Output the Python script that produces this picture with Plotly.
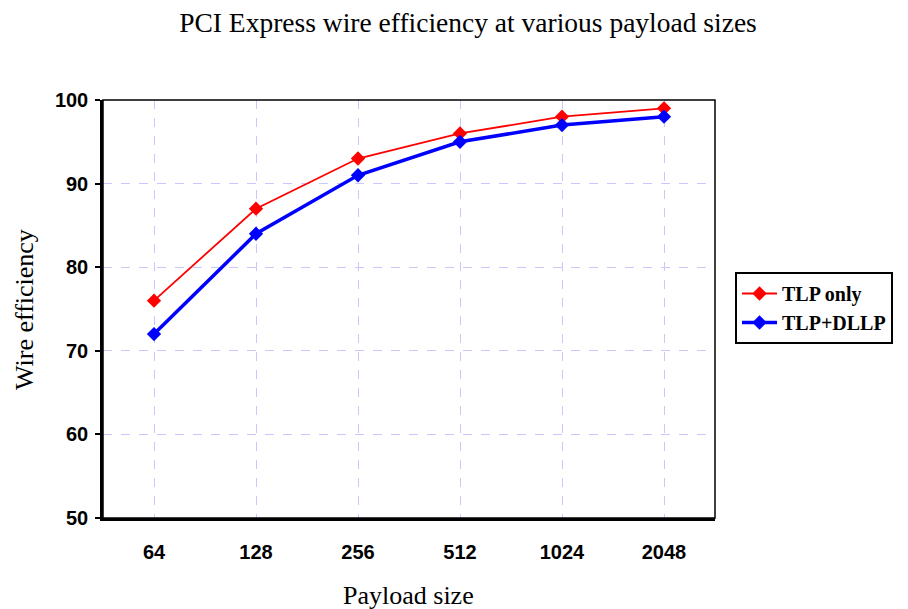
import plotly.graph_objects as go

categories = ["64", "128", "256", "512", "1024", "2048"]
tlp_only = [76, 87, 93, 96, 98, 99]
tlp_dllp = [72, 84, 91, 95, 97, 98]
y_ticks = [50, 60, 70, 80, 90, 100]

L, R, T, B = 103, 715, 100, 518
W, H = 908, 609
PW, PH = R - L, B - T

fig = go.Figure()
fig.add_trace(go.Scatter(x=categories, y=tlp_only, name="TLP only", mode="lines+markers",
                         line=dict(color="#ff0000", width=1.8),
                         marker=dict(symbol="diamond", size=11, color="#ff0000")))
fig.add_trace(go.Scatter(x=categories, y=tlp_dllp, name="TLP+DLLP", mode="lines+markers",
                         line=dict(color="#0000ff", width=3.5),
                         marker=dict(symbol="diamond", size=11, color="#0000ff")))

serif = "Liberation Serif"
sans = "Liberation Sans"

fig.update_layout(
    width=W, height=H,
    margin=dict(l=L, r=W - R, t=T, b=H - B),
    paper_bgcolor="white", plot_bgcolor="white",
    title=dict(text="PCI Express wire efficiency at various payload sizes",
               x=468 / W, xanchor="center", y=1 - 22 / H, yanchor="middle",
               font=dict(family=serif, size=27.5, color="black")),
    legend=dict(x=(735 - L) / PW, xanchor="left", y=(B - 272) / PH, yanchor="top",
                bordercolor="black", borderwidth=2, bgcolor="white",
                font=dict(family=serif, size=20, color="black", weight="bold"),
                tracegroupgap=2, itemwidth=35),
    xaxis=dict(type="category", range=[-0.5, 5.5], automargin=False,
               showline=True, linecolor="black", linewidth=2.5,
               showgrid=True, gridcolor="#c8c8ff", griddash="dash", gridwidth=1,
               ticks="", ticklabelstandoff=14,
               tickfont=dict(family=sans, size=20, color="black", weight="bold")),
    yaxis=dict(range=[50, 100], tickvals=y_ticks, automargin=False,
               showline=True, linecolor="black", linewidth=2.5,
               showgrid=True, gridcolor="#c8c8ff", griddash="dash", gridwidth=1,
               ticks="outside", ticklen=5, tickwidth=2, tickcolor="black",
               ticklabelstandoff=3,
               tickfont=dict(family=sans, size=20, color="black", weight="bold"),
               zeroline=False),
    shapes=[dict(type="rect", xref="paper", yref="paper", x0=0, x1=1, y0=0, y1=1,
                 line=dict(color="black", width=1.5), layer="above")],
    annotations=[
        dict(text="Payload size", xref="paper", yref="paper",
             x=(408 - L) / PW, y=(B - 595) / PH, xanchor="center", yanchor="middle",
             showarrow=False, font=dict(family=serif, size=26, color="black")),
        dict(text="Wire efficiency", xref="paper", yref="paper", textangle=-90,
             x=(24 - L) / PW, y=(B - 309) / PH, xanchor="center", yanchor="middle",
             showarrow=False, font=dict(family=serif, size=26, color="black")),
    ],
)

fig.write_html("out.html", config={"displayModeBar": False},
               post_script="document.body.style.margin='0';")
